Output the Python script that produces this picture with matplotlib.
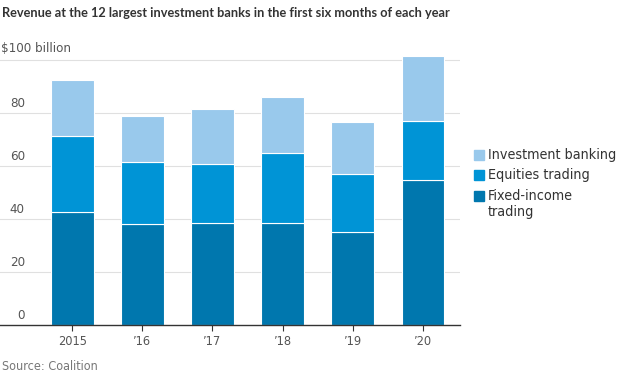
import numpy as np
import matplotlib.pyplot as plt

years = ['2015', '\u201916', '\u201917', '\u201918', '\u201919', '\u201920']
fixed_income = [42.6, 38.2, 38.6, 38.6, 35.2, 54.8]
equities = [28.6, 23.2, 22.1, 26.3, 21.8, 22.2]
inv_banking = [21.4, 17.7, 20.9, 21.3, 19.7, 24.4]

c_fi = '#0077ae'
c_eq = '#0094d6'
c_ib = '#99c9ec'

plt.rcParams['font.family'] = ['DejaVu Sans']
plt.rcParams['font.stretch'] = 'condensed'

fig = plt.figure(figsize=(6.2, 3.75), dpi=100)
ax = fig.add_axes([0.0, 0.1325, 0.742, 0.7355])

x = np.arange(len(years))
w = 0.607
fi = np.array(fixed_income)
eq = np.array(equities)
ib = np.array(inv_banking)
ax.bar(x, fi, w, color=c_fi, edgecolor='white', linewidth=0.8, zorder=2)
ax.bar(x, eq, w, bottom=fi, color=c_eq, edgecolor='white', linewidth=0.8, zorder=2)
ax.bar(x, ib, w, bottom=fi + eq, color=c_ib, edgecolor='white', linewidth=0.8, zorder=2)

ax.set_xlim(-1.03, 5.53)
ax.set_ylim(0, 104)
for v in [20, 40, 60, 80, 100]:
    ax.axhline(v, color='#e0e0e0', linewidth=0.8, zorder=1)
for v in [0, 20, 40, 60, 80]:
    ax.text(0.054, v + 1.2, str(v), transform=ax.get_yaxis_transform(),
            ha='right', va='bottom', fontsize=9.5, color='#555555')
ax.text(0.003, 101.8, '$100 billion', transform=ax.get_yaxis_transform(),
        ha='left', va='bottom', fontsize=9.5, color='#555555')

for s in ['top', 'right', 'left']:
    ax.spines[s].set_visible(False)
ax.spines['bottom'].set_color('#333333')
ax.spines['bottom'].set_linewidth(1.0)
ax.set_yticks([])
ax.set_xticks(x)
ax.set_xticklabels(years, fontsize=9.2, color='#555555')
ax.tick_params(axis='x', length=4, color='#333333', pad=3)

fig.text(0.003, 0.965, 'Revenue at the 12 largest investment banks in the first six months of each year',
         family=['Lato', 'DejaVu Sans'], fontweight='bold', fontsize=9.2, color='#333333',
         ha='left', va='center')
fig.text(0.003, 0.022, 'Source: Coalition', fontsize=9, color='#777777', ha='left', va='center')

legend = [(c_ib, 'Investment banking', 155), (c_eq, 'Equities trading', 175),
          (c_fi, 'Fixed-income\ntrading', 196)]
for col, lab, py in legend:
    fy = 1 - py / 375
    fig.patches.append(plt.Rectangle((474 / 620, fy - 5 / 375), 10 / 620, 10 / 375,
                                     transform=fig.transFigure, color=col))
    fig.text(488 / 620, fy + (7 / 375 if '\n' in lab else 0), lab, fontsize=10.3, color='#333333',
             ha='left', va='top' if '\n' in lab else 'center',
             linespacing=1.15)

fig.savefig('out.png', dpi=100)
